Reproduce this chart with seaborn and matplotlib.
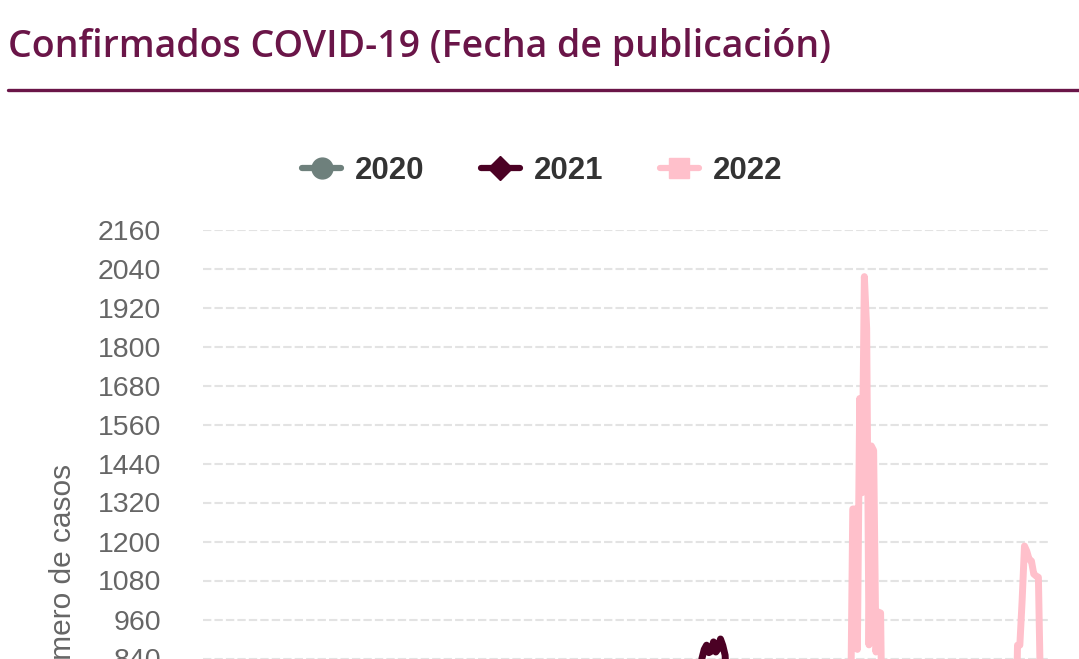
import numpy as np
import pandas as pd
import matplotlib
matplotlib.use('Agg')
import matplotlib.pyplot as plt
from matplotlib.lines import Line2D
import seaborn as sns

# Casos confirmados por dia del anio (fecha de publicacion)
years = ['2020', '2021', '2022']
colors = ['#6e807c', '#4b0124', '#ffc0cb']
markers = ['o', 'D', 's']

dias_2020 = [1, 60, 90, 120, 150, 180, 200, 220, 250, 280, 310, 340, 366]
casos_2020 = [0, 0, 15, 60, 150, 260, 330, 280, 210, 190, 240, 420, 560]

dias_2021 = [1, 15, 30, 45, 60, 90, 120, 150, 170, 190, 200, 208, 212,
             215, 216, 217, 218, 219, 220, 221, 222, 223, 224, 225, 226, 227, 228,
             235, 245, 260, 280, 300, 330, 350, 365]
casos_2021 = [560, 720, 640, 420, 300, 150, 90, 80, 120, 300, 480, 600, 640,
              700, 840, 868, 881, 858, 862, 891, 860, 870, 900, 880, 850, 700, 650,
              560, 420, 300, 180, 100, 60, 80, 160]

dias_2022 = [1, 10, 20, 30, 45, 60, 90, 120, 150, 180, 210, 240, 260, 270, 276, 279, 280,
             281, 282, 283, 284, 285, 286, 287, 288, 289, 290, 291, 292, 293, 294,
             297, 300, 310, 320, 330, 340, 346, 349, 350,
             351, 352, 353, 354, 355, 356, 357, 358, 359, 360, 361, 362, 363, 365]
casos_2022 = [200, 500, 780, 700, 450, 200, 80, 40, 70, 300, 350, 150, 90, 150, 300, 420, 610,
              1300, 1300, 868, 1640, 1350, 2015, 1855, 882, 1494, 1480, 860, 983, 980, 420,
              600, 450, 320, 260, 280, 350, 420, 380, 400,
              500, 881, 881, 1020, 1186, 1170, 1145, 1140, 1100, 1094, 1090, 700, 420, 250]

df = pd.concat([
    pd.DataFrame({'dia': dias_2020, 'casos': casos_2020, 'anio': '2020'}),
    pd.DataFrame({'dia': dias_2021, 'casos': casos_2021, 'anio': '2021'}),
    pd.DataFrame({'dia': dias_2022, 'casos': casos_2022, 'anio': '2022'}),
])

sns.set_style('white')
plt.rcParams['font.family'] = ['Liberation Sans', 'DejaVu Sans']

W, H = 1079, 659
fig = plt.figure(figsize=(W / 100, H / 100), dpi=100)
ax = fig.add_axes([203 / W, 1 - 931.5 / H, 847 / W, 702 / H])

sns.lineplot(data=df, x='dia', y='casos', hue='anio', hue_order=years,
             palette=colors, linewidth=5, legend=False, ax=ax)

ax.set_xlim(1, 366)
ax.set_ylim(0, 2160)
ax.set_yticks(np.arange(0, 2161, 120))
ax.set_xticks([])
ax.set_xlabel('')
for s in ax.spines.values():
    s.set_visible(False)
ax.yaxis.grid(True, color='#e3e3e3', linestyle=(0, (4, 1.5)), linewidth=1.5)
ax.set_axisbelow(True)
ax.tick_params(axis='y', length=0, pad=30, labelsize=20.5, labelcolor='#666666')
ax.set_ylabel('Número de casos', fontsize=21.5, color='#666666')
ax.yaxis.set_label_coords(-0.149, 0.5)

# titulo y linea
title_color = '#6a1548'
fig.text(8 / W, 1 - 57.3 / H, 'Confirmados COVID-19 (Fecha de publicación)',
         fontsize=27, fontweight='semibold', family=['Open Sans', 'DejaVu Sans'],
         color=title_color, ha='left', va='baseline')
fig.add_artist(Line2D([8 / W, 1], [1 - 90 / H, 1 - 90 / H], lw=2.4, color=title_color))

handles = [Line2D([], [], color=c, lw=4.5, marker=m, markersize=ms)
           for c, m, ms in zip(colors, markers, [15, 12, 15])]
fig.legend(handles, years, loc='center', bbox_to_anchor=(0.5025, 1 - 171 / H),
           ncol=3, frameon=False, handlelength=1.25, handletextpad=0.45,
           columnspacing=1.8, prop={'weight': 'bold', 'size': 22.5},
           labelcolor='#333333')

fig.savefig('out.png', dpi=100)
